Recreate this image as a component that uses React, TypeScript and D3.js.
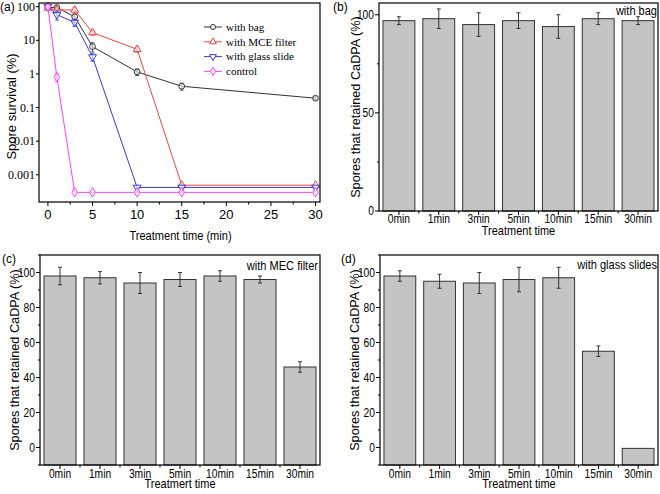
import React from 'react';
import * as d3 from 'd3';

// ---------- data ----------
const times = [0, 1, 3, 5, 10, 15, 30];
const bagSurvival = [95, 95, 50, 6.5, 1.15, 0.43, 0.19];
const bagErr = [8, 10, 10, 2, 0.25, 0.1, 0.02];
const mceSurvival = [92, 80, 80, 17, 5.4, 0.00049, 0.00049];
const mceErr = [8, 10, 15, 3, 1, 0, 0];
const glassSurvival = [100, 58, 34, 3.2, 0.00042, 0.00042, 0.00042];
const glassErr = [15, 18, 8, 0.8, 0, 0, 0];
const controlSurvival = [100, 0.8, 0.0003, 0.0003, 0.0003, 0.0003, 0.0003];
const controlErr = [5, 0.2, 0, 0, 0, 0, 0];

const survivalTicks = [100, 10, 1, 0.1, 0.01, 0.001];
const survivalTickLabels = ['100', '10', '1', '0.1', '0.01', '0.001'];
const timeTicks = [0, 5, 10, 15, 20, 25, 30];
const timeMinorTicks = [2.5, 7.5, 12.5, 17.5, 22.5, 27.5];

const seriesNames = ['with bag', 'with MCE filter', 'with glass slide', 'control'];

const categories = ['0min', '1min', '3min', '5min', '10min', '15min', '30min'];
const bagRetained = [97, 98, 95, 97, 94, 98, 97];
const bagRetainedErr = [2, 5, 6, 4, 6, 3, 2];
const mecRetained = [98, 97, 94, 96, 98, 96, 46];
const mecRetainedErr = [5, 3.5, 6, 4, 3, 2, 3];
const glassRetained = [98, 95, 94, 96, 97, 55, -0.5];
const glassRetainedErr = [3, 4, 6, 7, 6, 3, 0];

const bTicks = [0, 50, 100];
const bMinor = [25, 75];
const cdTicks = [0, 20, 40, 60, 80, 100];
const cdMinor = [-10, 10, 30, 50, 70, 90, 110];

// ---------- styles ----------
const SANS = "'Liberation Sans', Arial, sans-serif";
const SERIF = "'Liberation Serif', 'Times New Roman', serif";

const colors = ['#333333', '#ee4444', '#3a3ad8', '#ff40ff'];
const symbols = [d3.symbolCircle, d3.symbolTriangle, d3.symbolTriangle, d3.symbolDiamond];
const rotations = [0, 0, 180, 0];

// condensed sans text (emulates a narrow face)
function NText(props: { x: number; y: number; size: number; anchor?: string; sx?: number; children: React.ReactNode }) {
  const { x, y, size, anchor = 'start', sx = 0.82, children } = props;
  return (
    <text transform={`translate(${x},${y}) scale(${sx},1)`} textAnchor={anchor as any}
      fontFamily={SANS} fontSize={size}>{children}</text>
  );
}

function LinePanel() {
  const L = 39, R = 320, T = 3, B = 202;
  const x = d3.scaleLinear().domain([-1, 30.5]).range([L, R]);
  const y = d3.scaleLog().domain([1.55e-4, 129]).range([B, T]);
  const all = [bagSurvival, mceSurvival, glassSurvival, controlSurvival];
  const errs = [bagErr, mceErr, glassErr, controlErr];
  const line = d3.line<number>().x((_, i) => x(times[i])).y(d => y(d));
  const sym = (k: number, s: number) => d3.symbol().type(symbols[k]).size(s)() as string;
  return (
    <g>
      {all.map((vals, k) => (
        <g key={k}>
          <path d={line(vals) as string} fill="none" stroke={colors[k]} strokeWidth={1} />
          {vals.map((v, i) => {
            const e = errs[k][i];
            if (!e) return null;
            const lo = Math.max(v - e, 1.6e-4);
            return (
              <g key={'e' + i} stroke={colors[k]} strokeWidth={0.8}>
                <line x1={x(times[i])} x2={x(times[i])} y1={y(lo)} y2={y(v + e)} />
                <line x1={x(times[i]) - 2} x2={x(times[i]) + 2} y1={y(lo)} y2={y(lo)} />
                <line x1={x(times[i]) - 2} x2={x(times[i]) + 2} y1={y(v + e)} y2={y(v + e)} />
              </g>
            );
          })}
          {vals.map((v, i) => (
            <path key={'m' + i} d={sym(k, 26)}
              transform={`translate(${x(times[i])},${y(v)}) rotate(${rotations[k]})`}
              fill="white" fillOpacity={0.6} stroke={colors[k]} strokeWidth={1} />
          ))}
        </g>
      ))}
      <rect x={L} y={T} width={R - L} height={B - T} fill="none" stroke="#000" strokeWidth={1.2} />
      {timeTicks.map(t => (
        <g key={t}>
          <line x1={x(t)} x2={x(t)} y1={B} y2={B + 4} stroke="#000" />
          <text x={x(t)} y={B + 17} textAnchor="middle" fontFamily={SANS} fontSize={13}>{t}</text>
        </g>
      ))}
      {timeMinorTicks.map(t => (
        <line key={t} x1={x(t)} x2={x(t)} y1={B} y2={B + 2.5} stroke="#000" />
      ))}
      {survivalTicks.map((t, i) => (
        <g key={t}>
          <line x1={L} x2={L - 3} y1={y(t)} y2={y(t)} stroke="#000" />
          <text x={L - 4} y={y(t) + 4} textAnchor="end" fontFamily={SERIF} fontSize={12}>{survivalTickLabels[i]}</text>
        </g>
      ))}
      <NText x={(L + R) / 2 + 1} y={240} anchor="middle" size={13.5}>Treatment time (min)</NText>
      <text transform={`translate(${16},${(T + B) / 2 + 4}) rotate(-90)`} textAnchor="middle" fontFamily={SANS} fontSize={13}>Spore survival (%)</text>
      <text x={0} y={11} fontFamily={SANS} fontSize={12}>(a)</text>
      {seriesNames.map((n, k) => {
        const yy = 27 + k * 14.8;
        return (
          <g key={n}>
            <line x1={204} x2={222} y1={yy} y2={yy} stroke={colors[k]} strokeWidth={1} />
            <path d={sym(k, 20)} transform={`translate(213,${yy}) rotate(${rotations[k]})`} fill="white" stroke={colors[k]} strokeWidth={1} />
            <text x={226} y={yy + 3.8} fontFamily={SERIF} fontSize={11}>{n}</text>
          </g>
        );
      })}
    </g>
  );
}

type BarProps = {
  L: number; R: number; T: number; B: number;
  domain: [number, number];
  ticks: number[]; minor: number[];
  values: number[]; errs: number[];
  letter: string; letterX: number; letterY: number;
  note: string; noteX: number; noteY: number;
  yLabelX: number; xTitle: string; tickY: number; titleY: number;
};

function BarPanel(p: BarProps) {
  const x = d3.scaleBand().domain(categories).range([p.L, p.R]).paddingInner(0.2).paddingOuter(0.1);
  const y = d3.scaleLinear().domain(p.domain).range([p.B, p.T]);
  const bw = x.bandwidth();
  const step = x.step();
  const base = y(p.domain[0]);
  return (
    <g>
      {categories.map((c, i) => {
        const v = p.values[i];
        const e = p.errs[i];
        const cx = (x(c) as number) + bw / 2;
        return (
          <g key={c}>
            <rect x={x(c)} y={y(v)} width={bw} height={base - y(v)} fill="#c4c4c4" stroke="#333" strokeWidth={1} />
            {e > 0 && (
              <g stroke="#222" strokeWidth={0.9}>
                <line x1={cx} x2={cx} y1={y(v - e)} y2={y(v + e)} />
                <line x1={cx - 2} x2={cx + 2} y1={y(v - e)} y2={y(v - e)} />
                <line x1={cx - 2} x2={cx + 2} y1={y(v + e)} y2={y(v + e)} />
              </g>
            )}
            <line x1={cx} x2={cx} y1={p.B} y2={p.B + 4} stroke="#000" />
            <NText x={cx} y={p.tickY} anchor="middle" size={12.5}>{c}</NText>
          </g>
        );
      })}
      {categories.slice(1).map(c => (
        <line key={c} x1={(x(c) as number) - step * 0.1} x2={(x(c) as number) - step * 0.1} y1={p.B} y2={p.B + 2.5} stroke="#000" />
      ))}
      <rect x={p.L} y={p.T} width={p.R - p.L} height={p.B - p.T} fill="none" stroke="#000" strokeWidth={1.2} />
      {p.ticks.map(t => (
        <g key={t}>
          <line x1={p.L} x2={p.L - 4} y1={y(t)} y2={y(t)} stroke="#000" />
          <NText x={p.L - 5} y={y(t) + 4.3} anchor="end" size={12.5}>{t}</NText>
        </g>
      ))}
      {p.minor.map(t => (
        <line key={t} x1={p.L} x2={p.L - 2} y1={y(t)} y2={y(t)} stroke="#000" />
      ))}
      <NText x={(p.L + p.R) / 2} y={p.titleY} anchor="middle" size={13.4}>{p.xTitle}</NText>
      <text transform={`translate(${p.yLabelX},${(p.T + p.B) / 2}) rotate(-90)`} textAnchor="middle" fontFamily={SANS} fontSize={12.7}>Spores that retained CaDPA (%)</text>
      <text x={p.letterX} y={p.letterY} fontFamily={SANS} fontSize={12}>{p.letter}</text>
      <NText x={p.noteX} y={p.noteY} anchor="end" size={13} sx={0.85}>{p.note}</NText>
    </g>
  );
}

export default function App() {
  return (
    <svg width={660} height={494} style={{ position: 'absolute', left: 0, top: 0, background: '#fff' }}>
      <rect width={660} height={494} fill="#fff" />
      <LinePanel />
      <BarPanel L={379} R={658} T={3} B={211} domain={[0, 106]} ticks={bTicks} minor={bMinor}
        values={bagRetained} errs={bagRetainedErr} letter="(b)" letterX={333} letterY={11}
        note="with bag" noteX={657} noteY={15} yLabelX={360}
        xTitle="Treatment time" tickY={222.5} titleY={235} />
      <BarPanel L={40} R={320} T={255} B={465} domain={[-10, 110]} ticks={cdTicks} minor={cdMinor}
        values={mecRetained} errs={mecRetainedErr} letter="(c)" letterX={2} letterY={263}
        note="with MEC filter" noteX={318} noteY={270} yLabelX={18.5}
        xTitle="Treatmert time" tickY={477.5} titleY={488} />
      <BarPanel L={380} R={658} T={255} B={465} domain={[-10, 110]} ticks={cdTicks} minor={cdMinor}
        values={glassRetained} errs={glassRetainedErr} letter="(d)" letterX={341} letterY={263}
        note="with glass slides" noteX={657} noteY={269} yLabelX={358.5}
        xTitle="Treatment time" tickY={477.5} titleY={488} />
    </svg>
  );
}
